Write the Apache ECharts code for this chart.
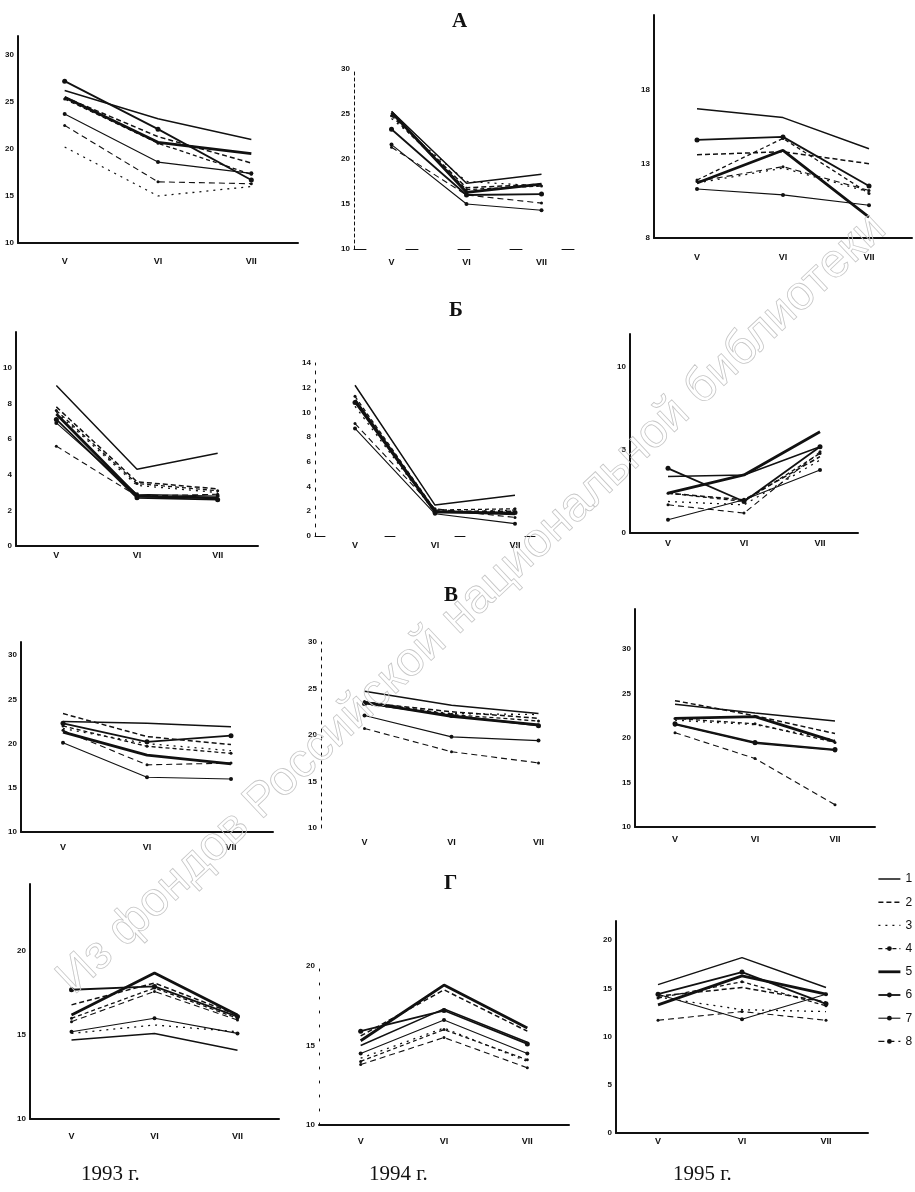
<!DOCTYPE html>
<html>
<head>
<meta charset="utf-8">
<script src="https://cdn.jsdelivr.net/npm/echarts@6/dist/echarts.min.js"></script>
<style>
html,body{margin:0;padding:0;background:#fff}
#chart{width:915px;height:1192px}
</style>
</head>
<body>
<div id="chart"></div>
<script>
// категории и подписи
var months = ['V', 'VI', 'VII'];
var seriesNames = ['1', '2', '3', '4', '5', '6', '7', '8'];
var years = ['1993 г.', '1994 г.', '1995 г.'];
var rowTitles = ['А', 'Б', 'В', 'Г'];

// А
var a1993 = [[26.2, 23.2, 21.0], [25.5, 21.3, 18.5], [20.2, 15.0, 16.0], [25.3, 20.6, 17.3],
             [25.5, 20.7, 19.5], [27.2, 22.1, 16.7], [23.7, 18.6, 17.4], [22.5, 16.5, 16.3]];
var a1994 = [[25.3, 17.3, 18.3], [25.0, 16.8, 17.2], [24.5, 17.5, 17.0], [24.8, 16.6, 17.0],
             [25.2, 16.3, 17.2], [23.3, 16.0, 16.1], [21.6, 15.0, 14.3], [21.3, 16.0, 15.1]];
var a1995 = [[16.7, 16.1, 14.0], [13.6, 13.8, 13.0], [11.7, 12.7, 11.1], [11.9, 14.7, 11.0],
             [11.7, 13.9, 9.4], [14.6, 14.8, 11.5], [11.3, 10.9, 10.2], [11.8, 12.8, 11.2]];
// Б
var b1993 = [[9.0, 4.3, 5.2], [7.8, 3.6, 3.2], [7.5, 3.4, 3.0], [7.6, 3.5, 3.1],
             [7.4, 2.8, 2.7], [7.1, 2.7, 2.6], [6.9, 2.9, 2.8], [5.6, 2.8, 2.9]];
var b1994 = [[12.2, 2.5, 3.3], [11.0, 2.0, 2.0], [10.5, 1.9, 2.1], [11.3, 2.1, 2.2],
             [11.0, 2.0, 1.8], [10.8, 1.9, 1.9], [8.7, 1.8, 1.0], [9.1, 2.2, 1.5]];
var b1995 = [[3.4, 3.5, 5.2], [2.4, 2.0, 4.6], [1.9, 1.7, 4.4], [2.4, 1.9, 4.8],
             [2.4, 3.5, 6.1], [3.9, 1.9, 5.2], [0.8, 2.0, 3.8], [1.7, 1.2, 4.9]];
// В
var v1993 = [[22.5, 22.3, 21.9], [23.4, 20.8, 19.9], [21.7, 20.0, 19.2], [22.0, 19.7, 18.9],
             [21.3, 18.7, 17.7], [22.3, 20.2, 20.9], [20.1, 16.2, 16.0], [21.5, 17.6, 17.8]];
var v1994 = [[24.7, 23.2, 22.3], [23.5, 22.5, 21.8], [23.3, 22.3, 22.2], [23.6, 22.2, 21.5],
             [23.5, 22.0, 21.1], [23.4, 22.1, 21.0], [22.1, 19.8, 19.4], [20.7, 18.2, 17.0]];
var v1995 = [[23.8, 22.8, 21.9], [24.2, 22.5, 20.5], [22.0, 21.5, 19.8], [22.2, 21.6, 19.5],
             [22.2, 22.4, 19.6], [21.6, 19.5, 18.7], [21.5, 19.4, 18.6], [20.6, 17.7, 12.5]];
// Г
var g1993 = [[14.7, 15.1, 14.1], [16.8, 18.1, 16.2], [15.1, 15.6, 15.2], [16.0, 17.8, 16.0],
             [16.2, 18.7, 16.2], [17.7, 17.9, 16.1], [15.2, 16.0, 15.1], [15.8, 17.6, 15.9]];
var g1994 = [[15.0, 17.3, 15.2], [15.6, 18.5, 15.9], [14.2, 16.1, 14.0], [14.0, 16.0, 14.1],
             [15.3, 18.8, 16.1], [15.9, 17.2, 15.1], [14.5, 16.6, 14.5], [13.8, 15.5, 13.6]];
var g1995 = [[15.4, 18.2, 15.1], [14.2, 15.1, 13.6], [14.1, 12.8, 12.6], [14.0, 15.7, 13.2],
             [13.3, 16.3, 14.4], [14.4, 16.7, 13.4], [14.4, 11.8, 14.4], [11.7, 12.6, 11.7]];

// подписи осей Y
var ticks10to30 = [10, 15, 20, 25, 30];
var ticksA1995 = [8, 13, 18];
var ticksB1993 = [0, 2, 4, 6, 8, 10];
var ticksB1994 = [0, 2, 4, 6, 8, 10, 12, 14];
var ticksB1995 = [0, 5, 10];
var ticksG = [10, 15, 20];
var ticksG1995 = [0, 5, 10, 15, 20];

/** стили линий 1..8 */
var styles = [
    {type: 'solid', width: 1.5, symbol: 'none', size: 0},
    {type: [5, 3], width: 1.5, symbol: 'none', size: 0},
    {type: [2, 5], width: 1.3, symbol: 'none', size: 0},
    {type: [4, 3], width: 1.3, symbol: 'circle', size: 3},
    {type: 'solid', width: 2.8, symbol: 'none', size: 0},
    {type: 'solid', width: 1.8, symbol: 'circle', size: 5},
    {type: 'solid', width: 1.1, symbol: 'circle', size: 4},
    {type: [6, 4], width: 1.1, symbol: 'circle', size: 3}
];

var panels = [
    {data: a1993, ticks: ticks10to30, min: 10, max: 32, left: 18, top: 36, width: 280, height: 207, lm: 14},
    {data: a1994, ticks: ticks10to30, min: 10, max: 30, left: 354, top: 69, width: 225, height: 180, lm: 9, xType: [12, 40], yType: [3, 3], yWidth: 1},
    {data: a1995, ticks: ticksA1995, min: 8, max: 23, left: 654, top: 15, width: 258, height: 223, lm: 15},
    {data: b1993, ticks: ticksB1993, min: 0, max: 12, left: 16, top: 332, width: 242, height: 214, lm: 5},
    {data: b1994, ticks: ticksB1994, min: 0, max: 14, left: 315, top: 363, width: 240, height: 173, lm: 5, xType: [10, 60], yType: [3, 6], yWidth: 1},
    {data: b1995, ticks: ticksB1995, min: 0, max: 12, left: 630, top: 334, width: 228, height: 199, lm: 6},
    {data: v1993, ticks: ticks10to30, min: 10, max: 31.5, left: 21, top: 642, width: 252, height: 190, lm: 11},
    {data: v1994, ticks: ticks10to30, min: 10, max: 30, left: 321, top: 642, width: 261, height: 186, lm: 10, xLine: false, yType: [3, 5], yWidth: 1},
    {data: v1995, ticks: ticks10to30, min: 10, max: 34.5, left: 635, top: 609, width: 240, height: 218, lm: 8},
    {data: g1993, ticks: ticksG, min: 10, max: 24, left: 30, top: 884, width: 249, height: 235, lm: 13},
    {data: g1994, ticks: ticksG, min: 10, max: 20, left: 319, top: 966, width: 250, height: 159, lm: 12, yType: [2, 12], yWidth: 1},
    {data: g1995, ticks: ticksG1995, min: 0, max: 22, left: 616, top: 921, width: 252, height: 212, lm: 4}
];

// элементы легенды: маркер только там, где он есть у линии
var legendData = seriesNames.map(function(n, k) {
    var item = {name: n, lineStyle: {width: styles[k].width, type: styles[k].type}};
    if (styles[k].symbol === 'none') item.itemStyle = {opacity: 0};
    return item;
});

var option = {
    backgroundColor: '#ffffff',
    animation: false,
    title: [],
    grid: [],
    xAxis: [],
    yAxis: [],
    series: [],
    legend: {
        data: legendData,
        orient: 'vertical',
        left: 877,
        top: 873,
        padding: 0,
        itemWidth: 22,
        itemHeight: 6,
        itemGap: 11.2,
        selectedMode: false,
        textStyle: {fontSize: 12, color: '#111', fontFamily: 'Liberation Sans'}
    },
    graphic: [{
        type: 'text',
        x: 472,
        y: 604,
        rotation: 0.754,
        silent: true,
        z: 100,
        style: {
            text: 'Из фондов Российской национальной библиотеки',
            fontSize: 48,
            fontFamily: 'Liberation Sans',
            fill: 'rgba(255,255,255,0)',
            stroke: '#c6c6c6',
            lineWidth: 0.8,
            align: 'center',
            verticalAlign: 'middle'
        }
    }]
};

// заголовки строк
var titlePos = [[447, 6], [444, 295], [439, 580], [439, 868]];
rowTitles.forEach(function(t, i) {
    option.title.push({text: t, left: titlePos[i][0], top: titlePos[i][1],
        textStyle: {fontSize: 21, fontWeight: 'bold', fontFamily: 'Liberation Serif', color: '#111'}});
});
// годы
var yearPos = [76, 364, 668];
years.forEach(function(t, i) {
    option.title.push({text: t, left: yearPos[i], top: 1159,
        textStyle: {fontSize: 21, fontWeight: 'normal', fontFamily: 'Liberation Serif', color: '#111'}});
});

panels.forEach(function(p, i) {
    option.grid.push({left: p.left, top: p.top, width: p.width, height: p.height});
    option.xAxis.push({
        type: 'category', gridIndex: i, data: months, boundaryGap: true,
        axisLine: {show: p.xLine !== false, lineStyle: {color: '#111', width: p.xType ? 1 : 2, type: p.xType || 'solid'}},
        axisTick: {show: false},
        axisLabel: {margin: p.lm, fontSize: 9, fontWeight: 'bold', color: '#111', fontFamily: 'Liberation Sans'},
        splitLine: {show: false}
    });
    option.yAxis.push({
        type: 'value', gridIndex: i, min: p.min, max: p.max,
        axisLine: {show: true, lineStyle: {color: '#111', width: p.yWidth || 2, type: p.yType || 'solid'}},
        axisTick: {show: false},
        axisLabel: {customValues: p.ticks, margin: 4, fontSize: 8, fontWeight: 'bold', color: '#111', fontFamily: 'Liberation Sans'},
        splitLine: {show: false}
    });
    p.data.forEach(function(vals, k) {
        var st = styles[k];
        option.series.push({
            name: seriesNames[k], type: 'line', xAxisIndex: i, yAxisIndex: i, data: vals,
            symbol: st.symbol, symbolSize: st.size, showSymbol: st.symbol !== 'none',
            lineStyle: {color: '#111', width: st.width, type: st.type},
            itemStyle: {color: '#111'},
            silent: true
        });
    });
});

var myChart = echarts.init(document.getElementById('chart'));
myChart.setOption(option);
</script>
</body>
</html>
